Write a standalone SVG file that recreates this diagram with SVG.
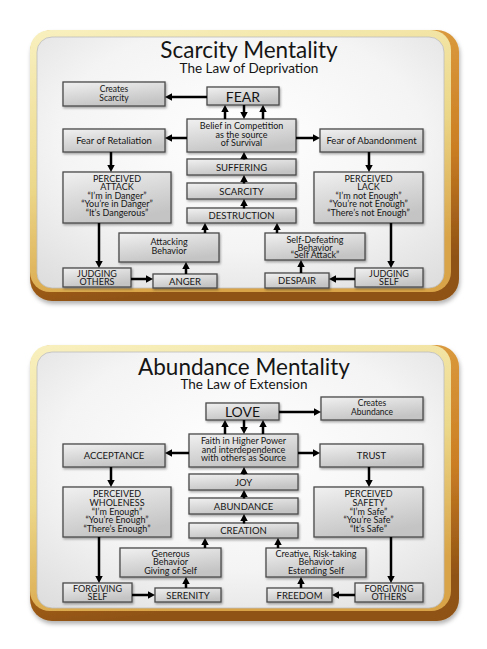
<svg xmlns="http://www.w3.org/2000/svg" width="487" height="649" viewBox="0 0 487 649">
<defs>
<linearGradient id="goldL" x1="0" y1="0" x2="0.3" y2="1">
<stop offset="0" stop-color="#f8f0bf"/>
<stop offset="0.55" stop-color="#ecd88a"/>
<stop offset="1" stop-color="#d9a447"/>
</linearGradient>
<linearGradient id="goldD" x1="0" y1="0" x2="0.2" y2="1">
<stop offset="0" stop-color="#e0a548"/>
<stop offset="0.6" stop-color="#cc7f24"/>
<stop offset="1" stop-color="#8f5214"/>
</linearGradient>
<radialGradient id="panel" cx="0.5" cy="0.4" r="0.75">
<stop offset="0" stop-color="#ffffff"/>
<stop offset="0.6" stop-color="#f4f4f4"/>
<stop offset="1" stop-color="#dedede"/>
</radialGradient>
<linearGradient id="boxg" x1="0" y1="0" x2="0.4" y2="1">
<stop offset="0" stop-color="#f1f1f1"/>
<stop offset="0.5" stop-color="#dadada"/>
<stop offset="1" stop-color="#c4c4c4"/>
</linearGradient>
<filter id="ds" x="-10%" y="-20%" width="130%" height="160%">
<feDropShadow dx="1" dy="1.5" stdDeviation="0.8" flood-color="#000" flood-opacity="0.35"/>
</filter>
<filter id="fs" x="-5%" y="-5%" width="115%" height="115%">
<feDropShadow dx="1" dy="3" stdDeviation="2" flood-color="#000" flood-opacity="0.3"/>
</filter>
<marker id="ah" markerUnits="userSpaceOnUse" markerWidth="8" markerHeight="8" refX="2" refY="3.75" orient="auto">
<path d="M0,0 L7,3.75 L0,7.5 Z" fill="#000"/>
</marker>
</defs>
<style>
.box{fill:url(#boxg);stroke:#4a4a4a;stroke-width:1.3;filter:url(#ds)}
.t{font-family:Lato,'Open Sans','DejaVu Sans',sans-serif;fill:#151515;text-anchor:middle;font-size:9.5px}
.m{font-size:9px}
.s{font-size:8.5px}
.big{font-size:14px}
.title{font-size:22.5px}
.sub{font-size:13.5px}
.c{stroke:#000;stroke-width:2.5;fill:none;marker-end:url(#ah)}
</style>
<rect width="487" height="649" fill="#ffffff"/>

<!-- ===== Top panel ===== -->
<g id="frame-top">
<rect x="30" y="30" width="429" height="271" rx="22" fill="url(#goldD)" filter="url(#fs)"/>
<rect x="30" y="30" width="421" height="262" rx="20" fill="url(#goldL)"/>
<rect x="37" y="37" width="407" height="251" rx="15" fill="url(#panel)" stroke="#bdbdbd" stroke-width="0.8"/>
<text class="t title" x="249" y="58">Scarcity Mentality</text>
<text class="t sub" x="249" y="73">The Law of Deprivation</text>
</g>

<g id="n-creates-scarcity"><rect class="box" x="63" y="82" width="102" height="24"/><text class="t s" x="114" y="92">Creates</text><text class="t s" x="114" y="101">Scarcity</text></g>
<g id="n-fear"><rect class="box" x="207" y="87" width="72" height="18"/><text class="t big" x="243" y="102">FEAR</text></g>
<g id="n-belief"><rect class="box" x="187" y="119" width="109" height="33"/><text class="t m" x="241.5" y="129">Belief in Competition</text><text class="t m" x="241.5" y="137.5">as the source</text><text class="t m" x="241.5" y="146">of Survival</text></g>
<g id="n-fear-retaliation"><rect class="box" x="63" y="129" width="102" height="23"/><text class="t" x="114" y="143.5">Fear of Retaliation</text></g>
<g id="n-fear-abandonment"><rect class="box" x="320" y="129" width="103" height="23"/><text class="t" x="371.5" y="143.5">Fear of Abandonment</text></g>
<g id="n-suffering"><rect class="box" x="187" y="159" width="109" height="16"/><text class="t" x="241.5" y="170.5">SUFFERING</text></g>
<g id="n-scarcity"><rect class="box" x="187" y="183" width="109" height="16"/><text class="t" x="241.5" y="194.5">SCARCITY</text></g>
<g id="n-destruction"><rect class="box" x="187" y="208" width="109" height="15"/><text class="t" x="241.5" y="219">DESTRUCTION</text></g>
<g id="n-perceived-attack"><rect class="box" x="63" y="172" width="108" height="51"/><text class="t m" x="117" y="182">PERCEIVED</text><text class="t m" x="117" y="190">ATTACK</text><text class="t m" x="117" y="198.5">“I’m in Danger”</text><text class="t m" x="117" y="207">“You’re in Danger”</text><text class="t m" x="117" y="215.5">“It’s Dangerous”</text></g>
<g id="n-perceived-lack"><rect class="box" x="314" y="172" width="109" height="51"/><text class="t m" x="368.5" y="182">PERCEIVED</text><text class="t m" x="368.5" y="190">LACK</text><text class="t m" x="368.5" y="198.5">“I’m not Enough”</text><text class="t m" x="368.5" y="207">“You’re not Enough”</text><text class="t m" x="368.5" y="215.5">“There’s not Enough”</text></g>
<g id="n-attacking"><rect class="box" x="119" y="233" width="100" height="29"/><text class="t m" x="169" y="245">Attacking</text><text class="t m" x="169" y="253.5">Behavior</text></g>
<g id="n-self-defeating"><rect class="box" x="265" y="233" width="100" height="27"/><text class="t m" x="315" y="243">Self-Defeating</text><text class="t m" x="315" y="250.5">Behavior</text><text class="t m" x="315" y="258">“Self Attack”</text></g>
<g id="n-judging-others"><rect class="box" x="63" y="268" width="68" height="19"/><text class="t m" x="97" y="277">JUDGING</text><text class="t m" x="97" y="285">OTHERS</text></g>
<g id="n-anger"><rect class="box" x="153" y="274" width="64" height="14"/><text class="t" x="185" y="284.5">ANGER</text></g>
<g id="n-despair"><rect class="box" x="265" y="273" width="64" height="15"/><text class="t" x="297" y="284">DESPAIR</text></g>
<g id="n-judging-self"><rect class="box" x="355" y="268" width="68" height="19"/><text class="t m" x="389" y="277">JUDGING</text><text class="t m" x="389" y="285">SELF</text></g>

<g id="connectors-top">
<path class="c" d="M207,97 H170"/>
<path class="c" d="M225,119 V110"/>
<path class="c" d="M244,105 V114"/>
<path class="c" d="M263,119 V110"/>
<path class="c" d="M187,138 H170"/>
<path class="c" d="M296,138 H315"/>
<path class="c" d="M244,159.5 V157"/>
<path class="c" d="M244,183.5 V180"/>
<path class="c" d="M244,208.5 V204"/>
<path class="c" d="M205,233 V228"/>
<path class="c" d="M277,233 V228"/>
<path class="c" d="M186,274 V267"/>
<path class="c" d="M301,273 V265"/>
<path class="c" d="M131,279 H148"/>
<path class="c" d="M355,279 H334"/>
<path class="c" d="M111,152 V167"/>
<path class="c" d="M369,152 V167"/>
<path class="c" d="M99,223 V263"/>
<path class="c" d="M391,223 V263"/>
</g>

<!-- ===== Bottom panel ===== -->
<g id="frame-bottom">
<rect x="30" y="345" width="429" height="276" rx="22" fill="url(#goldD)" filter="url(#fs)"/>
<rect x="30" y="345" width="421" height="266" rx="20" fill="url(#goldL)"/>
<rect x="37" y="352" width="407" height="256" rx="15" fill="url(#panel)" stroke="#bdbdbd" stroke-width="0.8"/>
<text class="t title" x="244" y="375">Abundance Mentality</text>
<text class="t sub" x="244" y="389">The Law of Extension</text>
</g>

<g id="n-love"><rect class="box" x="206" y="403" width="73" height="17"/><text class="t big" x="242.5" y="417">LOVE</text></g>
<g id="n-creates-abundance"><rect class="box" x="321" y="397" width="102" height="23"/><text class="t s" x="372" y="406">Creates</text><text class="t s" x="372" y="415">Abundance</text></g>
<g id="n-faith"><rect class="box" x="189" y="434" width="109" height="33"/><text class="t m" x="243.5" y="444">Faith in Higher Power</text><text class="t m" x="243.5" y="452.5">and interdependence</text><text class="t m" x="243.5" y="461">with others as Source</text></g>
<g id="n-acceptance"><rect class="box" x="63" y="444" width="102" height="23"/><text class="t" x="114" y="458.5">ACCEPTANCE</text></g>
<g id="n-trust"><rect class="box" x="320" y="444" width="103" height="23"/><text class="t" x="371.5" y="458.5">TRUST</text></g>
<g id="n-joy"><rect class="box" x="189" y="474" width="109" height="16"/><text class="t" x="243.5" y="485.5">JOY</text></g>
<g id="n-abundance"><rect class="box" x="189" y="498" width="109" height="16"/><text class="t" x="243.5" y="509.5">ABUNDANCE</text></g>
<g id="n-creation"><rect class="box" x="189" y="523" width="109" height="15"/><text class="t" x="243.5" y="534">CREATION</text></g>
<g id="n-perceived-wholeness"><rect class="box" x="63" y="487" width="108" height="50"/><text class="t m" x="117" y="497">PERCEIVED</text><text class="t m" x="117" y="505.5">WHOLENESS</text><text class="t m" x="117" y="514.5">“I’m Enough”</text><text class="t m" x="117" y="523">“You’re Enough”</text><text class="t m" x="117" y="531.5">“There’s Enough”</text></g>
<g id="n-perceived-safety"><rect class="box" x="314" y="487" width="109" height="50"/><text class="t m" x="368.5" y="497">PERCEIVED</text><text class="t m" x="368.5" y="505.5">SAFETY</text><text class="t m" x="368.5" y="514.5">“I’m Safe”</text><text class="t m" x="368.5" y="523">“You’re Safe”</text><text class="t m" x="368.5" y="531.5">“It’s Safe”</text></g>
<g id="n-generous"><rect class="box" x="120" y="548" width="101" height="29"/><text class="t m" x="170.5" y="557">Generous</text><text class="t m" x="170.5" y="565">Behavior</text><text class="t m" x="170.5" y="573.5">Giving of Self</text></g>
<g id="n-creative"><rect class="box" x="266" y="548" width="100" height="29"/><text class="t m" x="316" y="557">Creative, Risk-taking</text><text class="t m" x="316" y="565">Behavior</text><text class="t m" x="316" y="573.5">Estending Self</text></g>
<g id="n-forgiving-self"><rect class="box" x="63" y="583" width="69" height="19"/><text class="t m" x="97.5" y="592">FORGIVING</text><text class="t m" x="97.5" y="600">SELF</text></g>
<g id="n-serenity"><rect class="box" x="155" y="588" width="66" height="14"/><text class="t" x="188" y="598.5">SERENITY</text></g>
<g id="n-freedom"><rect class="box" x="267" y="588" width="65" height="14"/><text class="t" x="299.5" y="598.5">FREEDOM</text></g>
<g id="n-forgiving-others"><rect class="box" x="355" y="583" width="68" height="19"/><text class="t m" x="389" y="592">FORGIVING</text><text class="t m" x="389" y="600">OTHERS</text></g>

<g id="connectors-bottom">
<path class="c" d="M279,412 H316"/>
<path class="c" d="M225,434 V425"/>
<path class="c" d="M244,420 V429"/>
<path class="c" d="M263,434 V425"/>
<path class="c" d="M189,453 H170"/>
<path class="c" d="M298,453 H315"/>
<path class="c" d="M244,474.5 V472"/>
<path class="c" d="M244,498.5 V495"/>
<path class="c" d="M244,523.5 V519"/>
<path class="c" d="M205,548 V543"/>
<path class="c" d="M278,548 V543"/>
<path class="c" d="M186,588 V582"/>
<path class="c" d="M301,588 V582"/>
<path class="c" d="M132,595 H150"/>
<path class="c" d="M355,595 H337"/>
<path class="c" d="M111,467 V482"/>
<path class="c" d="M369,467 V482"/>
<path class="c" d="M99,537 V578"/>
<path class="c" d="M391,537 V578"/>
</g>
</svg>
